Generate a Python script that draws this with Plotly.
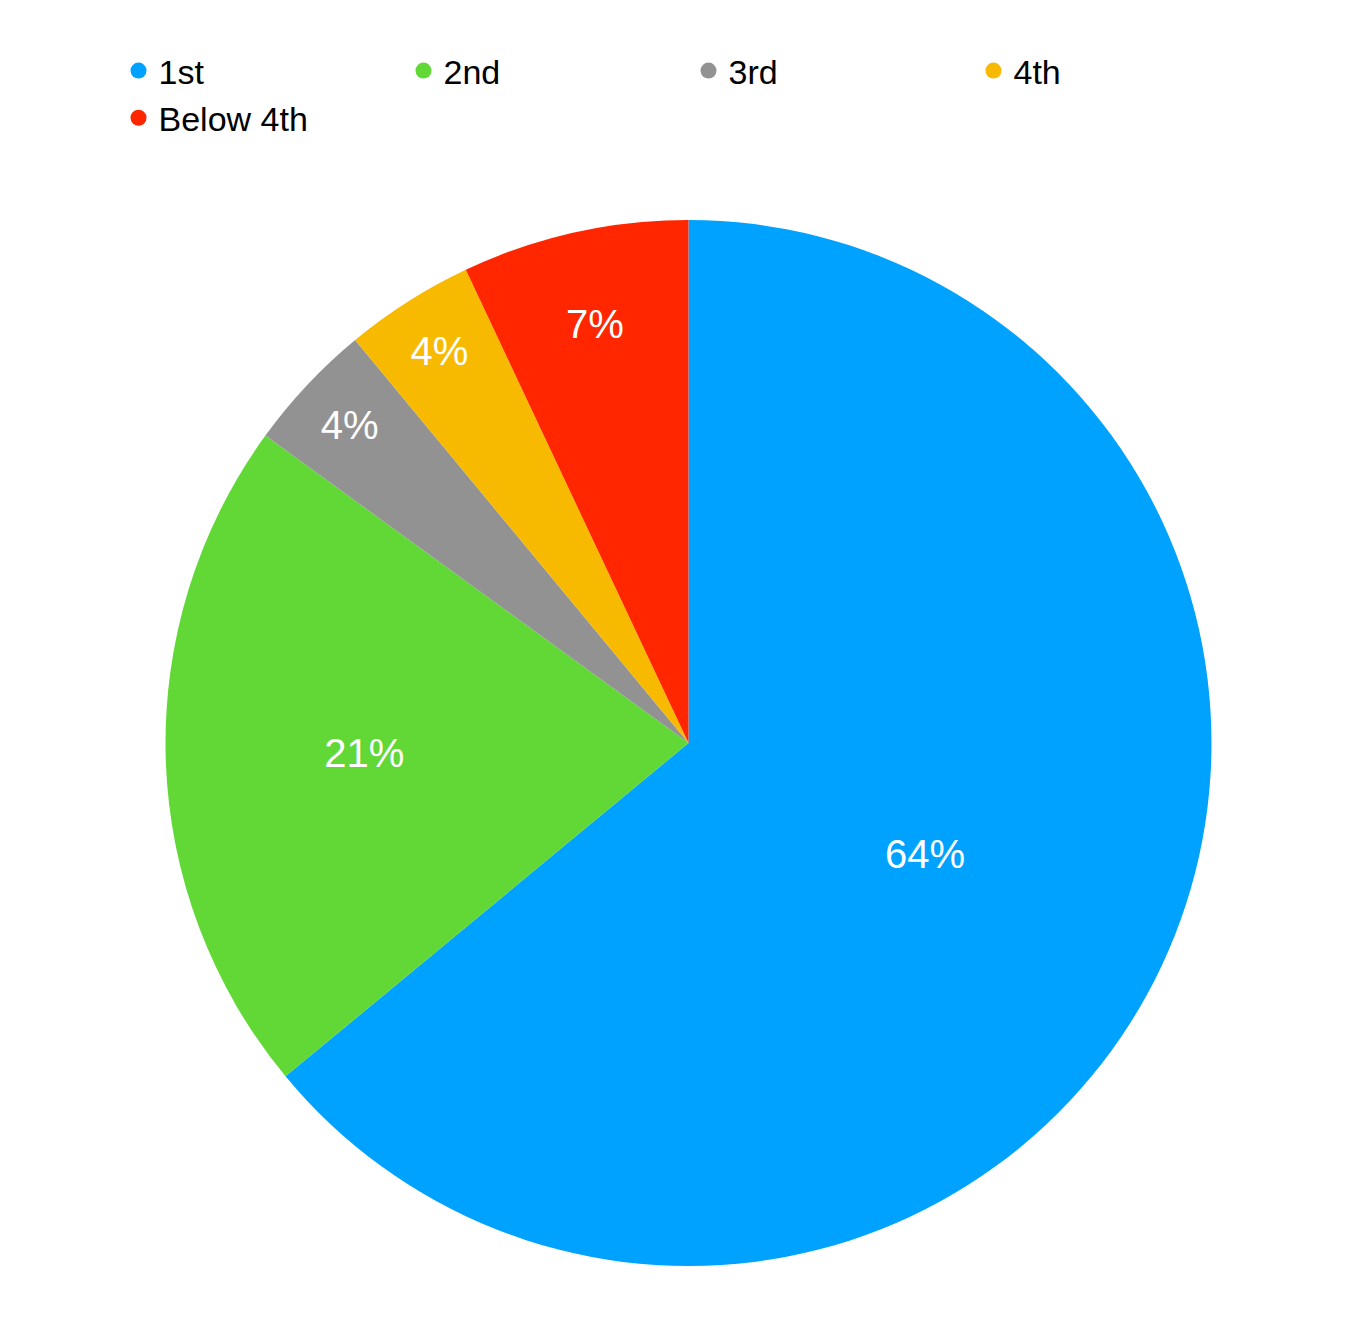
import plotly.graph_objects as go

labels = ["1st", "2nd", "3rd", "4th", "Below 4th"]
values = [64, 21, 4, 4, 7]
colors = ["#00A2FF", "#61D836", "#929292", "#F8BA00", "#FF2600"]

fig = go.Figure()
fig.add_trace(go.Pie(labels=labels, values=values, sort=False, direction="clockwise", rotation=0,
                     marker=dict(colors=colors, line=dict(width=0)),
                     texttemplate="%{percent:.0%}", textposition="inside",
                     insidetextorientation="horizontal",
                     textfont=dict(color="white", size=40, family="Liberation Sans"),
                     showlegend=False, hoverinfo="label+percent"))
for l, c in zip(labels, colors):
    fig.add_trace(go.Scatter(x=[None], y=[None], mode="markers", name=l,
                             marker=dict(color=c, size=16, symbol="circle")))
fig.update_layout(width=1345, height=1327, paper_bgcolor="white", plot_bgcolor="white",
                  margin=dict(l=16, r=0, t=212, b=69),
                  xaxis=dict(visible=False), yaxis=dict(visible=False),
                  legend=dict(orientation="h", x=0.5, xanchor="center", y=1.12, yanchor="middle",
                              entrywidth=240, itemsizing="trace",
                              font=dict(size=34, family="Liberation Sans", color="black")))
fig.write_html("out.html")
